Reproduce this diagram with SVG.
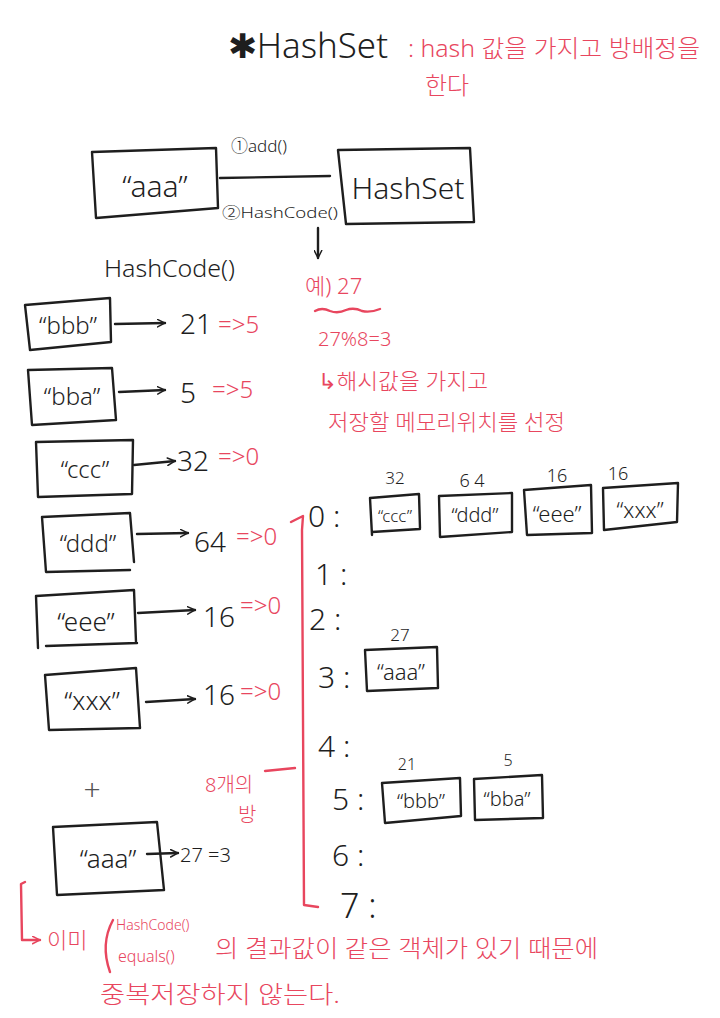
<svg xmlns="http://www.w3.org/2000/svg" width="720" height="1018" viewBox="0 0 720 1018">
<style>
.b{fill:none;stroke:#1e1e1e;stroke-width:2.4;stroke-linecap:round;stroke-linejoin:round}
.r{fill:none;stroke:#e8465e;stroke-width:2.4;stroke-linecap:round;stroke-linejoin:round}
.t{font-family:"Noto Sans","Noto Sans CJK KR",sans-serif;font-weight:300;fill:#1e1e1e}
.rt{font-family:"Noto Sans","Noto Sans CJK KR",sans-serif;font-weight:300;fill:#e8465e}
.c{text-anchor:middle}
</style>
<defs>
<marker id="ah" viewBox="0 0 12 12" refX="11" refY="6" markerWidth="9" markerHeight="9" markerUnits="userSpaceOnUse" orient="auto">
<path d="M1,1 L11,6 L1,11" fill="none" stroke="#1e1e1e" stroke-width="2" stroke-linecap="round"/>
</marker>
<marker id="ahr" viewBox="0 0 12 12" refX="11" refY="6" markerWidth="9" markerHeight="9" markerUnits="userSpaceOnUse" orient="auto">
<path d="M1,1 L11,6 L1,11" fill="none" stroke="#e8465e" stroke-width="2" stroke-linecap="round"/>
</marker>
</defs>
<rect width="720" height="1018" fill="#ffffff"/>

<g id="title">
<text class="t" x="228" y="58" font-size="34" textLength="160" lengthAdjust="spacingAndGlyphs">✱HashSet</text>
<text class="rt" x="408" y="57" font-size="24" textLength="292" lengthAdjust="spacingAndGlyphs">: hash 값을 가지고 방배정을</text>
<text class="rt" x="425" y="94" font-size="24">한다</text>
</g>

<g id="node-aaa-top">
<path class="b" d="M92,152 L216,148 L218,208 L96,218 Z"/>
<text class="t c" x="155" y="197" font-size="30">“aaa”</text>
</g>
<g id="node-hashset">
<path class="b" d="M338,150 L470,148 L474,222 L346,224 Z"/>
<text class="t c" x="408" y="199" font-size="30">HashSet</text>
</g>

<g id="connectors">
<path class="b" d="M220,178 L330,176"/>
<text class="t" x="231" y="152" font-size="17">①add()</text>
<text class="t" x="222" y="218" font-size="15" textLength="116" lengthAdjust="spacingAndGlyphs">②HashCode()</text>
<path class="b" d="M318,228 L318,258" marker-end="url(#ah)"/>
<path class="b" d="M115,324 L165,323" marker-end="url(#ah)"/>
<path class="b" d="M119,392 L165,390" marker-end="url(#ah)"/>
<path class="b" d="M134,465 L175,461" marker-end="url(#ah)"/>
<path class="b" d="M137,534 L188,533" marker-end="url(#ah)"/>
<path class="b" d="M138,613 L195,610" marker-end="url(#ah)"/>
<path class="b" d="M146,702 L195,699" marker-end="url(#ah)"/>
<path class="b" d="M147,854 L178,853" marker-end="url(#ah)"/>
</g>

<text class="t" x="104" y="277" font-size="24" textLength="131" lengthAdjust="spacingAndGlyphs">HashCode()</text>

<g id="node-bbb">
<path class="b" d="M25,305 L110,298 L111,342 L30,350 Z"/>
<text class="t c" x="68" y="334" font-size="24">“bbb”</text>
<text class="t" x="180" y="334" font-size="28">21</text>
<text class="rt" x="218" y="333" font-size="24">=&gt;5</text>
</g>
<g id="node-bba">
<path class="b" d="M28,370 L112,368 L116,420 L32,425 Z"/>
<text class="t c" x="72" y="405" font-size="24">“bba”</text>
<text class="t" x="180" y="403" font-size="28">5</text>
<text class="rt" x="212" y="398" font-size="24">=&gt;5</text>
</g>
<g id="node-ccc">
<path class="b" d="M36,442 L133,440 L132,494 L38,497 Z"/>
<text class="t c" x="85" y="478" font-size="24">“ccc”</text>
<text class="t" x="177" y="471" font-size="28">32</text>
<text class="rt" x="218" y="465" font-size="24">=&gt;0</text>
</g>
<g id="node-ddd">
<path class="b" d="M42,517 L130,513 L134,562 M130,570 L46,572 L42,517"/>
<text class="t c" x="88" y="552" font-size="24">“ddd”</text>
<text class="t" x="194" y="552" font-size="28">64</text>
<text class="rt" x="236" y="545" font-size="24">=&gt;0</text>
</g>
<g id="node-eee">
<path class="b" d="M36,596 L134,590 L136,642 M46,646 L137,643 M36,596 L38,648"/>
<text class="t c" x="86" y="631" font-size="26">“eee”</text>
<text class="t" x="203" y="627" font-size="28">16</text>
<text class="rt" x="240" y="614" font-size="24">=&gt;0</text>
</g>
<g id="node-xxx">
<path class="b" d="M45,675 L136,668 L140,728 L49,730 Z"/>
<text class="t c" x="92" y="710" font-size="26">“xxx”</text>
<text class="t" x="203" y="705" font-size="28">16</text>
<text class="rt" x="240" y="700" font-size="24">=&gt;0</text>
</g>

<text class="t c" x="92" y="800" font-size="30" style="fill:#555">+</text>

<g id="node-aaa-new">
<path class="b" d="M53,827 L157,822 L164,890 L57,895 Z"/>
<text class="t c" x="108" y="868" font-size="26">“aaa”</text>
<text class="t" x="180" y="862" font-size="20">27 =3</text>
</g>

<g id="note-example">
<text class="rt" x="305" y="294" font-size="22">예) 27</text>
<path class="r" d="M315,311 Q322,307 330,311 Q338,314 346,310 Q354,307 362,311 Q370,313 380,309"/>
<text class="rt" x="318" y="346" font-size="20">27%8=3</text>
<text class="rt" x="318" y="389" font-size="22" textLength="170" lengthAdjust="spacingAndGlyphs">↳해시값을 가지고</text>
<text class="rt" x="328" y="430" font-size="22" textLength="237" lengthAdjust="spacingAndGlyphs">저장할 메모리위치를 선정</text>
</g>

<g id="bucket-bracket">
<path class="r" d="M291,522 L303,516 L302,530 L304,905 L318,907"/>
<path class="r" d="M265,771 L295,768"/>
<text class="rt" x="205" y="792" font-size="20">8개의</text>
<text class="rt" x="238" y="822" font-size="20">방</text>
</g>

<g id="buckets">
<text class="t" x="308" y="527" font-size="30">0 :</text>
<text class="t" x="315" y="585" font-size="30">1 :</text>
<text class="t" x="309" y="630" font-size="30">2 :</text>
<text class="t" x="318" y="688" font-size="30">3 :</text>
<text class="t" x="318" y="757" font-size="30">4 :</text>
<text class="t" x="332" y="810" font-size="30">5 :</text>
<text class="t" x="332" y="866" font-size="30">6 :</text>
<text class="t" x="340" y="918" font-size="34">7 :</text>
</g>

<g id="bucket0-ccc">
<path class="b" d="M370,498 L419,494 L420,528 M372,532 L420,529 M370,498 L372,535"/>
<text class="t c" x="395" y="522" font-size="17">“ccc”</text>
<text class="t c" x="395" y="484" font-size="17">32</text>
</g>
<g id="bucket0-ddd">
<path class="b" d="M439,496 L512,493 L512,532 L440,537 Z"/>
<text class="t c" x="475" y="522" font-size="20">“ddd”</text>
<text class="t c" x="472" y="487" font-size="18">6 4</text>
</g>
<g id="bucket0-eee">
<path class="b" d="M524,490 L591,485 L592,533 L527,535 Z"/>
<text class="t c" x="557" y="522" font-size="22">“eee”</text>
<text class="t c" x="557" y="482" font-size="18">16</text>
</g>
<g id="bucket0-xxx">
<path class="b" d="M603,488 L678,483 L677,522 L604,530 Z"/>
<text class="t c" x="640" y="518" font-size="22">“xxx”</text>
<text class="t c" x="618" y="480" font-size="18">16</text>
</g>
<g id="bucket3-aaa">
<path class="b" d="M365,650 L437,647 L438,688 L367,691 Z"/>
<text class="t c" x="401" y="680" font-size="22">“aaa”</text>
<text class="t c" x="400" y="641" font-size="17">27</text>
</g>
<g id="bucket5-bbb">
<path class="b" d="M382,783 L460,778 L461,816 L385,823 Z"/>
<text class="t c" x="421" y="808" font-size="20">“bbb”</text>
<text class="t c" x="407" y="770" font-size="16">21</text>
</g>
<g id="bucket5-bba">
<path class="b" d="M474,779 L542,775 L543,818 L475,820 Z"/>
<text class="t c" x="507" y="806" font-size="20">“bba”</text>
<text class="t c" x="508" y="766" font-size="16">5</text>
</g>

<g id="note-duplicate">
<path class="r" d="M25,882 L21,884 L22,940 L40,940" marker-end="url(#ahr)"/>
<text class="rt" x="47" y="948" font-size="22">이미</text>
<path class="r" d="M113,920 Q100,944 110,972"/>
<text class="rt" x="116" y="930" font-size="14">HashCode()</text>
<text class="rt" x="118" y="962" font-size="16">equals()</text>
<text class="rt" x="215" y="957" font-size="24" textLength="383" lengthAdjust="spacingAndGlyphs">의 결과값이 같은 객체가 있기 때문에</text>
<text class="rt" x="100" y="1003" font-size="24" textLength="240" lengthAdjust="spacingAndGlyphs">중복저장하지 않는다.</text>
</g>
</svg>
